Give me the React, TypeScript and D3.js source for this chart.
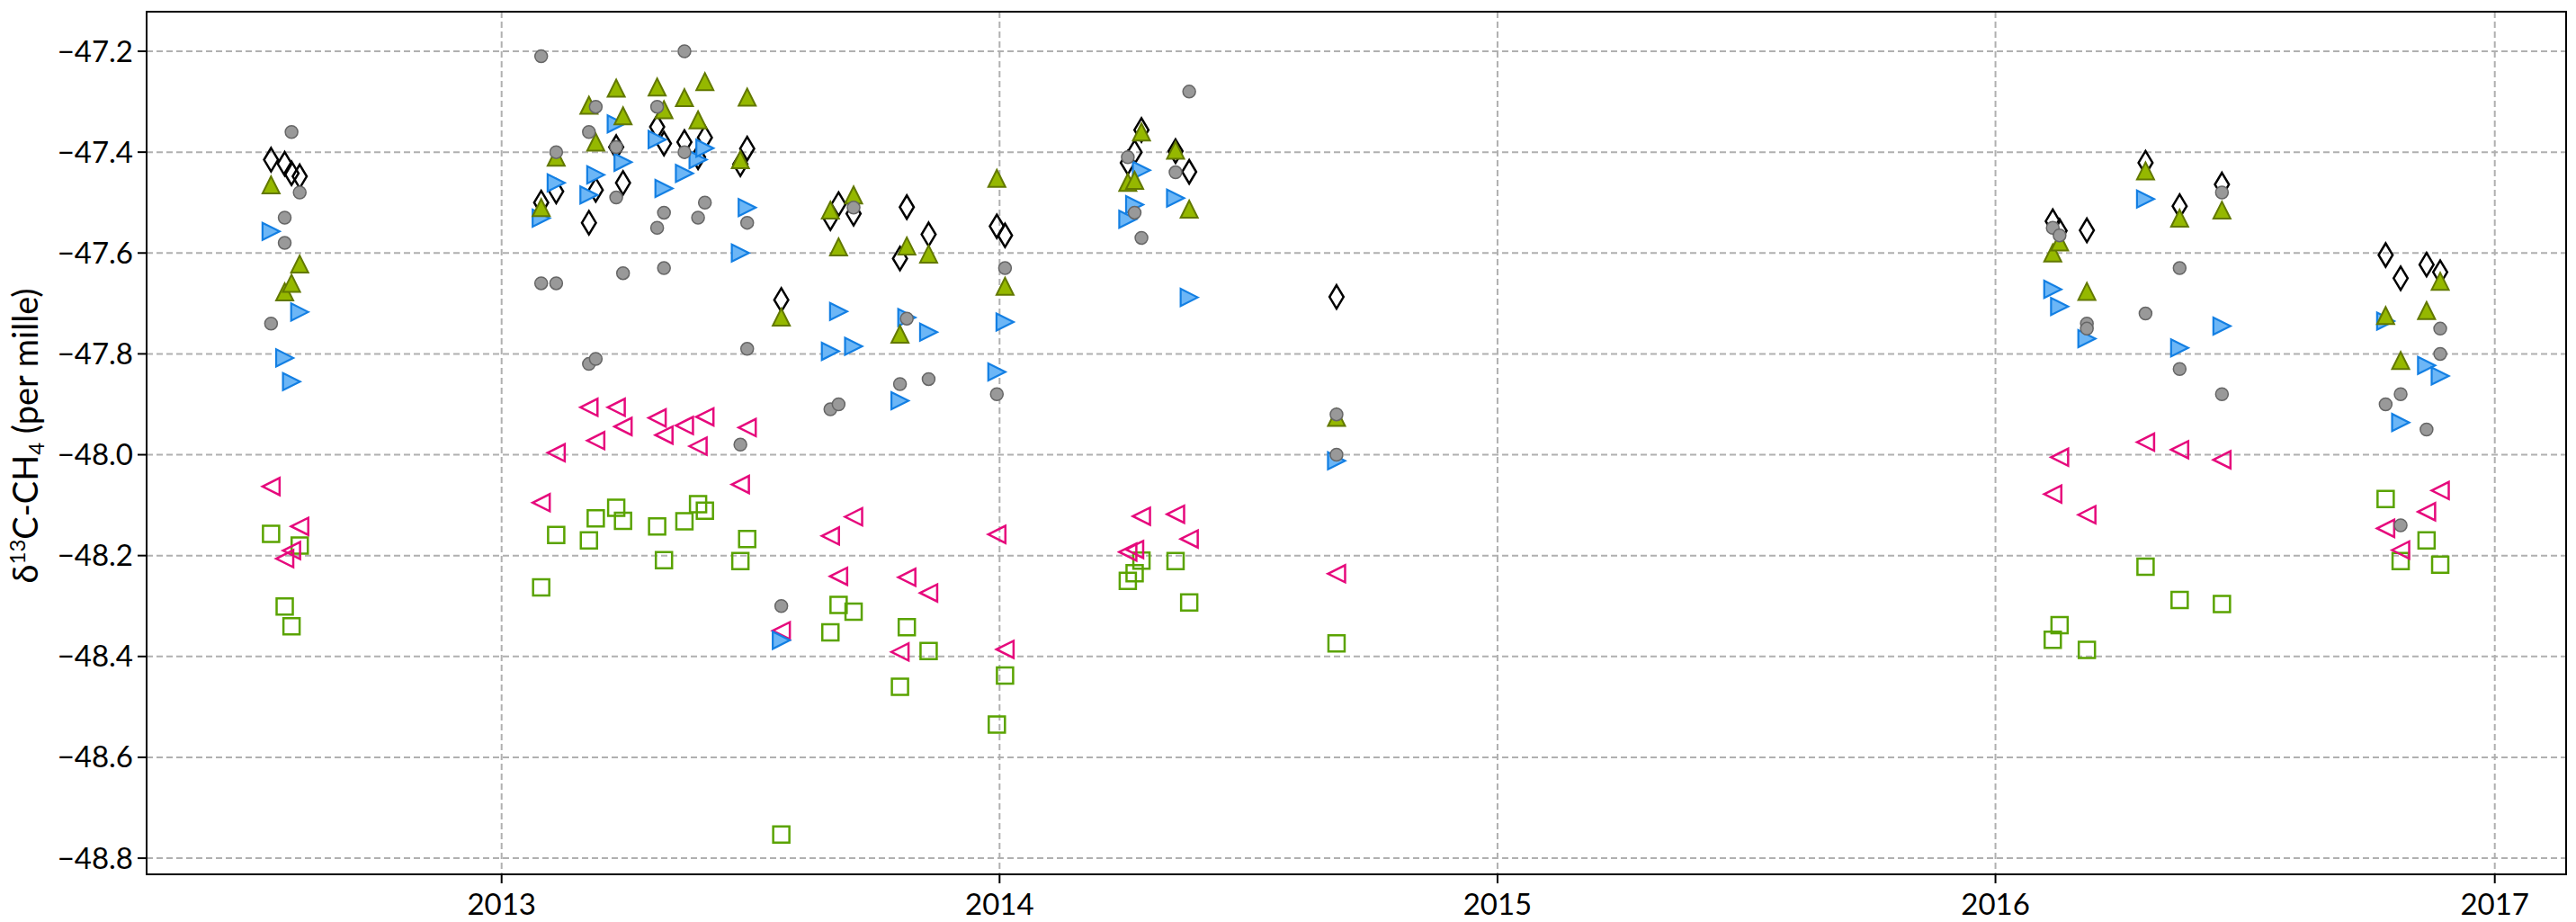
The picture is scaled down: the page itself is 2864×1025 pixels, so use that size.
import { useEffect } from 'react'
import * as d3 from 'd3'

type Pt = [string, number]

// gray filled circles
const grayCircles: Pt[] = [
  ['2012-07-16', -47.74], ['2012-07-26', -47.53], ['2012-07-26', -47.58], ['2012-07-31', -47.36], ['2012-08-06', -47.48],
  ['2013-01-30', -47.21], ['2013-01-30', -47.66], ['2013-02-10', -47.40], ['2013-02-10', -47.66], ['2013-03-06', -47.36],
  ['2013-03-06', -47.82], ['2013-03-11', -47.31], ['2013-03-11', -47.81], ['2013-03-26', -47.39], ['2013-03-26', -47.49],
  ['2013-03-31', -47.64], ['2013-04-25', -47.31], ['2013-04-25', -47.55], ['2013-04-30', -47.52], ['2013-04-30', -47.63],
  ['2013-05-15', -47.20], ['2013-05-15', -47.40], ['2013-05-25', -47.53], ['2013-05-30', -47.50], ['2013-06-25', -47.98],
  ['2013-06-30', -47.54], ['2013-06-30', -47.79], ['2013-07-25', -48.30],
  ['2013-08-30', -47.91], ['2013-09-05', -47.90], ['2013-09-16', -47.51], ['2013-10-20', -47.86], ['2013-10-25', -47.73],
  ['2013-11-10', -47.85], ['2013-12-30', -47.88], ['2014-01-05', -47.63],
  ['2014-04-05', -47.41], ['2014-04-10', -47.52], ['2014-04-15', -47.57], ['2014-05-10', -47.44], ['2014-05-20', -47.28],
  ['2014-09-05', -47.92], ['2014-09-05', -48.00],
  ['2016-02-12', -47.55], ['2016-02-17', -47.565], ['2016-03-08', -47.74], ['2016-03-08', -47.75], ['2016-04-20', -47.72],
  ['2016-05-15', -47.63], ['2016-05-15', -47.83], ['2016-06-15', -47.48], ['2016-06-15', -47.88],
  ['2016-10-13', -47.90], ['2016-10-24', -47.88], ['2016-10-24', -48.14], ['2016-11-12', -47.95], ['2016-11-22', -47.75],
  ['2016-11-22', -47.80],
]

// black open thin diamonds
const blackDiamonds: Pt[] = [
  ['2012-07-16', -47.415], ['2012-07-26', -47.423], ['2012-07-31', -47.442], ['2012-08-06', -47.448],
  ['2013-01-30', -47.50], ['2013-02-10', -47.478], ['2013-03-06', -47.54], ['2013-03-11', -47.475], ['2013-03-26', -47.39],
  ['2013-03-31', -47.461], ['2013-04-25', -47.35], ['2013-04-30', -47.383], ['2013-05-15', -47.38], ['2013-05-25', -47.41],
  ['2013-05-30', -47.371], ['2013-06-25', -47.424], ['2013-06-30', -47.393], ['2013-07-25', -47.693],
  ['2013-08-30', -47.531], ['2013-09-05', -47.503], ['2013-09-16', -47.522], ['2013-10-20', -47.611], ['2013-10-25', -47.509],
  ['2013-11-10', -47.563], ['2013-12-30', -47.547], ['2014-01-05', -47.565],
  ['2014-04-05', -47.421], ['2014-04-10', -47.40], ['2014-04-15', -47.356], ['2014-05-10', -47.398], ['2014-05-20', -47.439],
  ['2014-09-05', -47.687],
  ['2016-02-12', -47.537], ['2016-02-17', -47.556], ['2016-03-08', -47.555], ['2016-04-20', -47.421], ['2016-05-15', -47.507],
  ['2016-06-15', -47.464],
  ['2016-10-13', -47.604], ['2016-10-24', -47.65], ['2016-11-12', -47.623], ['2016-11-22', -47.638],
]

// olive up triangles
const oliveTriangles: Pt[] = [
  ['2012-07-16', -47.465], ['2012-07-26', -47.677], ['2012-07-31', -47.66], ['2012-08-06', -47.622],
  ['2013-01-30', -47.51], ['2013-02-10', -47.41], ['2013-03-06', -47.307], ['2013-03-11', -47.38], ['2013-03-26', -47.273],
  ['2013-03-31', -47.328], ['2013-04-25', -47.271], ['2013-04-30', -47.316], ['2013-05-15', -47.292], ['2013-05-25', -47.336],
  ['2013-05-30', -47.26], ['2013-06-25', -47.415], ['2013-06-30', -47.291], ['2013-07-25', -47.727],
  ['2013-08-30', -47.515], ['2013-09-05', -47.588], ['2013-09-16', -47.485], ['2013-10-20', -47.761], ['2013-10-25', -47.586],
  ['2013-11-10', -47.602], ['2013-12-30', -47.452], ['2014-01-05', -47.666],
  ['2014-04-05', -47.46], ['2014-04-10', -47.456], ['2014-04-15', -47.36], ['2014-05-10', -47.396], ['2014-05-20', -47.513],
  ['2014-09-05', -47.926],
  ['2016-02-12', -47.60], ['2016-02-17', -47.578], ['2016-03-08', -47.676], ['2016-04-20', -47.437], ['2016-05-15', -47.531],
  ['2016-06-15', -47.515],
  ['2016-10-13', -47.724], ['2016-10-24', -47.813], ['2016-11-12', -47.714], ['2016-11-22', -47.656],
]

// blue right-pointing triangles
const blueTriangles: Pt[] = [
  ['2012-07-16', -47.557], ['2012-07-26', -47.808], ['2012-07-31', -47.855], ['2012-08-06', -47.717],
  ['2013-01-30', -47.531], ['2013-02-10', -47.461], ['2013-03-06', -47.485], ['2013-03-11', -47.445], ['2013-03-26', -47.344],
  ['2013-03-31', -47.42], ['2013-04-25', -47.375], ['2013-04-30', -47.472], ['2013-05-15', -47.442], ['2013-05-25', -47.415],
  ['2013-05-30', -47.392], ['2013-06-25', -47.60], ['2013-06-30', -47.51], ['2013-07-25', -48.368],
  ['2013-08-30', -47.795], ['2013-09-05', -47.716], ['2013-09-16', -47.785], ['2013-10-20', -47.893], ['2013-10-25', -47.728],
  ['2013-11-10', -47.757], ['2013-12-30', -47.836], ['2014-01-05', -47.737],
  ['2014-04-05', -47.533], ['2014-04-10', -47.504], ['2014-04-15', -47.436], ['2014-05-10', -47.491], ['2014-05-20', -47.688],
  ['2014-09-05', -48.012],
  ['2016-02-12', -47.672], ['2016-02-17', -47.706], ['2016-03-08', -47.77], ['2016-04-20', -47.493], ['2016-05-15', -47.788],
  ['2016-06-15', -47.745],
  ['2016-10-13', -47.735], ['2016-10-24', -47.936], ['2016-11-12', -47.823], ['2016-11-22', -47.844],
]

// pink open left-pointing triangles
const pinkTriangles: Pt[] = [
  ['2012-07-16', -48.063], ['2012-07-26', -48.206], ['2012-07-31', -48.19], ['2012-08-06', -48.142],
  ['2013-01-30', -48.095], ['2013-02-10', -47.996], ['2013-03-06', -47.906], ['2013-03-11', -47.972], ['2013-03-26', -47.906],
  ['2013-03-31', -47.944], ['2013-04-25', -47.927], ['2013-04-30', -47.961], ['2013-05-15', -47.942], ['2013-05-25', -47.983],
  ['2013-05-30', -47.925], ['2013-06-25', -48.059], ['2013-06-30', -47.946], ['2013-07-25', -48.349],
  ['2013-08-30', -48.161], ['2013-09-05', -48.241], ['2013-09-16', -48.123], ['2013-10-20', -48.391], ['2013-10-25', -48.243],
  ['2013-11-10', -48.274], ['2013-12-30', -48.158], ['2014-01-05', -48.386],
  ['2014-04-05', -48.193], ['2014-04-10', -48.188], ['2014-04-15', -48.122], ['2014-05-10', -48.118], ['2014-05-20', -48.167],
  ['2014-09-05', -48.236],
  ['2016-02-12', -48.078], ['2016-02-17', -48.005], ['2016-03-08', -48.119], ['2016-04-20', -47.975], ['2016-05-15', -47.99],
  ['2016-06-15', -48.01],
  ['2016-10-13', -48.146], ['2016-10-24', -48.189], ['2016-11-12', -48.113], ['2016-11-22', -48.071],
]

// green open squares
const greenSquares: Pt[] = [
  ['2012-07-16', -48.157], ['2012-07-26', -48.301], ['2012-07-31', -48.34], ['2012-08-06', -48.18],
  ['2013-01-30', -48.263], ['2013-02-10', -48.159], ['2013-03-06', -48.17], ['2013-03-11', -48.126], ['2013-03-26', -48.105],
  ['2013-03-31', -48.131], ['2013-04-25', -48.142], ['2013-04-30', -48.209], ['2013-05-15', -48.132], ['2013-05-25', -48.098],
  ['2013-05-30', -48.111], ['2013-06-25', -48.211], ['2013-06-30', -48.167], ['2013-07-25', -48.753],
  ['2013-08-30', -48.352], ['2013-09-05', -48.298], ['2013-09-16', -48.311], ['2013-10-20', -48.46], ['2013-10-25', -48.342],
  ['2013-11-10', -48.389], ['2013-12-30', -48.535], ['2014-01-05', -48.438],
  ['2014-04-05', -48.25], ['2014-04-10', -48.235], ['2014-04-15', -48.21], ['2014-05-10', -48.211], ['2014-05-20', -48.293],
  ['2014-09-05', -48.374],
  ['2016-02-12', -48.367], ['2016-02-17', -48.338], ['2016-03-08', -48.387], ['2016-04-20', -48.222], ['2016-05-15', -48.288],
  ['2016-06-15', -48.296],
  ['2016-10-13', -48.088], ['2016-10-24', -48.211], ['2016-11-12', -48.17], ['2016-11-22', -48.218],
]

const yearTicks = [2013, 2014, 2015, 2016, 2017]

const WIDTH = 2864
const HEIGHT = 1025
const left = 163
const right = 2853
const top = 13
const bottom = 972

const parse = d3.utcParse('%Y-%m-%d')

// x range pinned so the 2013 and 2017 ticks land where they do in the figure
const t2013 = Date.UTC(2013, 0, 1)
const t2017 = Date.UTC(2017, 0, 1)
const px2013 = 557.7
const px2017 = 2773.7
const msPerPx = (t2017 - t2013) / (px2017 - px2013)
const x = d3.scaleTime()
  .domain([new Date(t2013 - (px2013 - left) * msPerPx), new Date(t2017 + (right - px2017) * msPerPx)])
  .range([left, right])

const y = d3.scaleLinear().domain([-48.832, -47.1215]).range([bottom, top])
const fmt = d3.format('.1f')

const shapes = {
  circle: (r: number) => `M${r},0A${r},${r} 0 1,1 ${-r},0A${r},${r} 0 1,1 ${r},0Z`,
  diamond: (r: number) => `M0,${-r}L${r * 0.6},0L0,${r}L${-r * 0.6},0Z`,
  up: (r: number) => `M0,${-r}L${r},${r}L${-r},${r}Z`,
  right: (r: number) => `M${r},0L${-r},${-r}L${-r},${r}Z`,
  left: (r: number) => `M${-r},0L${r},${-r}L${r},${r}Z`,
  square: (r: number) => `M${-r},${-r}H${r}V${r}H${-r}Z`,
}

const layers = [
  { data: greenSquares, shape: shapes.square(9), fill: 'none', stroke: '#5aa300', sw: 2.5 },
  { data: pinkTriangles, shape: shapes.left(9.5), fill: 'none', stroke: '#e6097c', sw: 2.5 },
  { data: blackDiamonds, shape: shapes.diamond(13), fill: 'none', stroke: '#000000', sw: 2.5 },
  { data: blueTriangles, shape: shapes.right(9.5), fill: '#6cb6f6', stroke: '#137fe3', sw: 2.2 },
  { data: oliveTriangles, shape: shapes.up(9.5), fill: '#95b800', stroke: '#627800', sw: 2 },
  { data: grayCircles, shape: shapes.circle(7), fill: '#999999', stroke: '#666666', sw: 1.5 },
]

export default function App() {
  useEffect(() => {
    document.body.style.margin = '0'
  }, [])

  const yTicks = y.ticks(10)
  const font = 'Lato, "Open Sans", sans-serif'

  return (
    <svg width={WIDTH} height={HEIGHT} style={{ display: 'block', background: '#fff' }}>
      <rect x={0} y={0} width={WIDTH} height={HEIGHT} fill="#fff" />
      {/* grid */}
      <g stroke="#b0b0b0" strokeWidth={2} strokeDasharray="7,4">
        {yTicks.map(t => (
          <line key={'gy' + t} x1={left} x2={right} y1={y(t)} y2={y(t)} />
        ))}
        {yearTicks.map(yr => {
          const px = x(new Date(Date.UTC(yr, 0, 1)))
          return <line key={'gx' + yr} x1={px} x2={px} y1={top} y2={bottom} />
        })}
      </g>

      {/* markers */}
      {layers.map((l, i) => (
        <g key={i} fill={l.fill} stroke={l.stroke} strokeWidth={l.sw} strokeLinejoin="miter">
          {l.data.map(([d, v], j) => (
            <path key={j} d={l.shape} transform={`translate(${x(parse(d)!)},${y(v)})`} />
          ))}
        </g>
      ))}

      {/* frame */}
      <rect x={left} y={top} width={right - left} height={bottom - top} fill="none" stroke="#000" strokeWidth={2} />

      {/* axes */}
      <g fontFamily={font} fontSize={33} fill="#000">
        {yTicks.map(t => (
          <g key={'ty' + t}>
            <line x1={left - 10} x2={left} y1={y(t)} y2={y(t)} stroke="#000" strokeWidth={2} />
            <text x={left - 15} y={y(t)} dy="0.35em" textAnchor="end">{fmt(t)}</text>
          </g>
        ))}
        {yearTicks.map(yr => {
          const px = x(new Date(Date.UTC(yr, 0, 1)))
          return (
            <g key={'tx' + yr}>
              <line x1={px} x2={px} y1={bottom} y2={bottom + 10} stroke="#000" strokeWidth={2} />
              <text x={px} y={bottom + 45} textAnchor="middle">{yr}</text>
            </g>
          )
        })}
      </g>

      {/* y label */}
      <text
        transform={`translate(42,${(top + bottom) / 2 - 8}) rotate(-90)`}
        textAnchor="middle"
        fontFamily={font}
        fontSize={38}
        fill="#000"
      >
        δ<tspan fontSize={24} dy={-14}>13</tspan>
        <tspan dy={14}>C-CH</tspan>
        <tspan fontSize={24} dy={7}>4</tspan>
        <tspan dy={-7}> (per mille)</tspan>
      </text>
    </svg>
  )
}
